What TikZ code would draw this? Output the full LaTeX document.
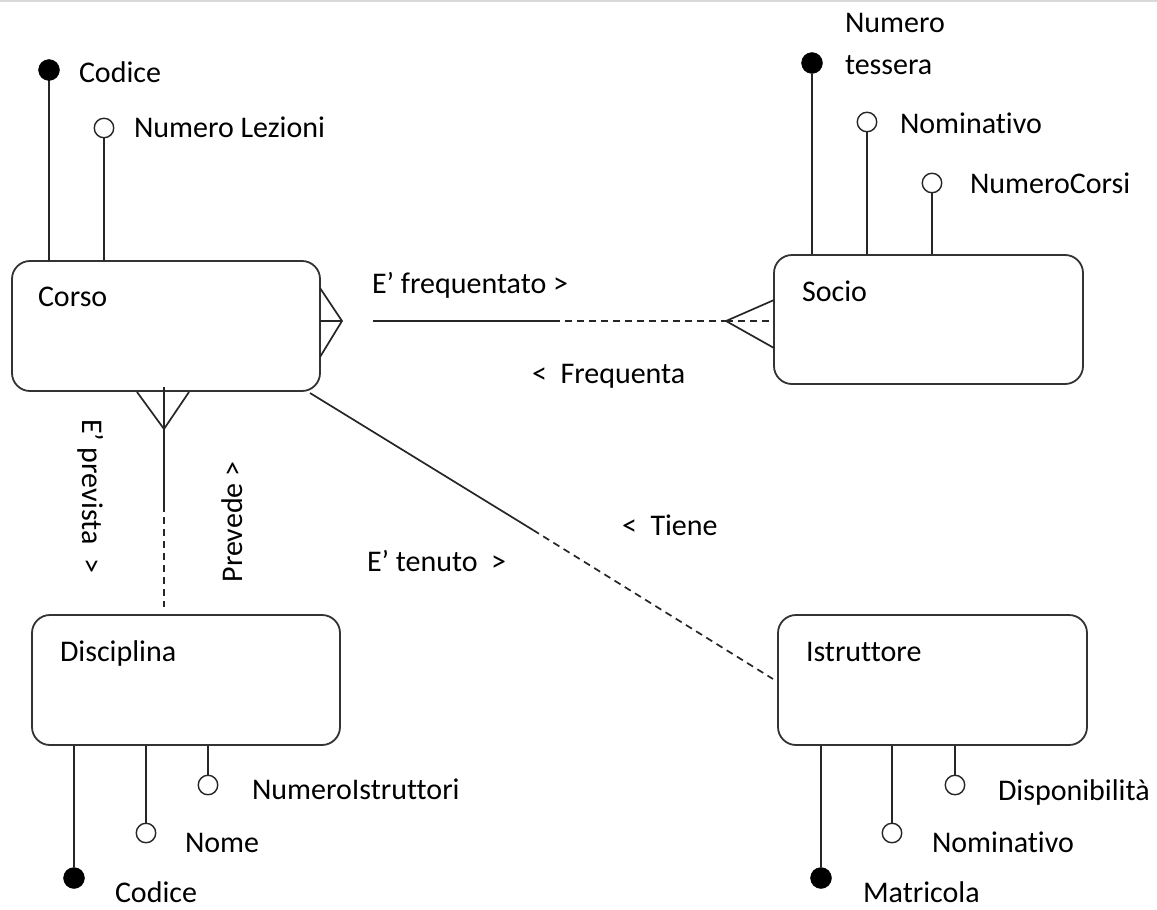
\documentclass[tikz,border=0pt]{standalone}
\usepackage{fontspec}
\setmainfont{Carlito}[Ligatures={NoCommon,NoRequired,NoContextual,NoRare},Contextuals=NoAlternate]
\begin{document}
\begin{tikzpicture}[x=1pt,y=-1pt,
  ent/.style={draw=black!80, line width=1.8pt, rounded corners=18pt, inner sep=0pt, minimum width=308pt, minimum height=130pt},
  lbl/.style={anchor=base west, inner sep=0pt, outer sep=0pt, text=black, font=\fontsize{30}{36}\selectfont},
  rlbl/.style={anchor=center, inner sep=0pt, outer sep=0pt, text=black, font=\fontsize{30}{36}\selectfont},
  keyat/.style={circle, fill=black, draw=black, inner sep=0pt, minimum size=21pt},
  optat/.style={circle, fill=white, draw=black!85, line width=1.4pt, inner sep=0pt, minimum size=19.5pt},
  ln/.style={line width=1.7pt, draw=black!85},
  dsh/.style={ln, dash pattern=on 7pt off 5pt}]
\useasboundingbox (0,0) rectangle (1157,910);
\draw[black!15, line width=2pt] (0,1) -- (1157,1);

% entities
\node[ent] (corso) at (166,326) {};
\node[ent, minimum width=309pt, minimum height=129pt] (socio) at (928.5,319.5) {};
\node[ent] (disc) at (186,680) {};
\node[ent, minimum width=309pt] (istr) at (932.5,680) {};

\node[lbl] (tcorso) at (38,306) {Corso};
\node[lbl] (tsocio) at (802,301) {Socio};
\node[lbl] (tdisc) at (60,661) {Disciplina};
\node[lbl] (tistr) at (806,661) {Istruttore};

% Corso attributes
\draw[ln] (49,70) -- (49,261);
\draw[ln] (104,128) -- (104,261);
\node[keyat] (ck) at (49,70) {};
\node[optat] (cnl) at (104,128) {};
\node[lbl] (tck) at (79,82) {Codice};
\node[lbl] (tcnl) at (134,137) {Numero Lezioni};

% Socio attributes
\node[keyat] (sk) at (812,63) {};
\node[optat] (sn) at (867,122) {};
\node[optat] (snc) at (932,183) {};
\draw[ln] (sk) -- (sk |- socio.north);
\draw[ln] (sn.south) -- (sn |- socio.north);
\draw[ln] (snc.south) -- (snc |- socio.north);
\node[lbl] (tsk1) at (845,32) {Numero};
\node[lbl] (tsk2) at (845,74) {tessera};
\node[lbl] (tsn) at (900,133) {Nominativo};
\node[lbl] (tsnc) at (970,193) {NumeroCorsi};

% Disciplina attributes
\node[keyat] (dk) at (74,878) {};
\node[optat] (dn) at (146,833) {};
\node[optat] (dni) at (208,785) {};
\draw[ln] (dk) -- (dk |- disc.south);
\draw[ln] (dn.north) -- (dn |- disc.south);
\draw[ln] (dni.north) -- (dni |- disc.south);
\node[lbl] (tdk) at (115,902) {Codice};
\node[lbl] (tdn) at (185,852) {Nome};
\node[lbl] (tdni) at (252,799) {NumeroIstruttori};

% Istruttore attributes
\node[keyat] (ik) at (821,878) {};
\node[optat] (in) at (892,833) {};
\node[optat] (id) at (955,785) {};
\draw[ln] (ik) -- (ik |- istr.south);
\draw[ln] (in.north) -- (in |- istr.south);
\draw[ln] (id.north) -- (id |- istr.south);
\node[lbl] (tik) at (863,902) {Matricola};
\node[lbl] (tin) at (932,852) {Nominativo};
\node[lbl] (tid) at (998,800) {Disponibilità};

% Corso - Socio
\coordinate (cfa) at (320,288);
\coordinate (cfb) at (320,357);
\coordinate (cfv) at (342,321);
\coordinate (cfm) at (320,321);
\coordinate (rs1) at (373,321);
\coordinate (rs2) at (553,321);
\coordinate (sfv) at (726,321);
\coordinate (sfa) at (774,300);
\coordinate (sfb) at (774,348);
\draw[ln] (cfa) -- (cfv) -- (cfb);
\draw[ln] (cfm) -- (cfv);
\draw[ln] (rs1) -- (rs2);
\draw[dsh] (rs2) -- (sfv);
\draw[dsh] (sfv) -- (sfv -| socio.west);
\draw[ln] (sfa) -- (sfv) -- (sfb);
\node[lbl] (tef) at (372,293) {E’ frequentato >};
\node[lbl] (tfr) at (532,383) {<\ \ Frequenta};

% Corso - Disciplina
\coordinate (dfa) at (137,392);
\coordinate (dfb) at (189,392);
\coordinate (dfv) at (164,429);
\coordinate (dl1) at (164,387);
\coordinate (dl2) at (164,505);
\coordinate (dl3) at (164,607);
\draw[ln] (dfa) -- (dfv) -- (dfb);
\draw[ln] (dl1) -- (dl2);
\draw[dsh] (dl2) -- (dl3);
\node[rlbl, rotate=-90] (tep) at (91,496) {E’ prevista\ \ >};
\node[rlbl, rotate=90] (tpv) at (232,522) {Prevede >};

% Corso - Istruttore
\coordinate (il1) at (310,393);
\coordinate (il2) at (533,530);
\coordinate (il3) at (773,679);
\draw[ln] (il1) -- (il2);
\draw[dsh] (il2) -- (il3);
\node[lbl] (tet) at (367,571) {E’ tenuto\ \ >};
\node[lbl] (tti) at (622,535) {<\ \ Tiene};
\end{tikzpicture}
\end{document}
